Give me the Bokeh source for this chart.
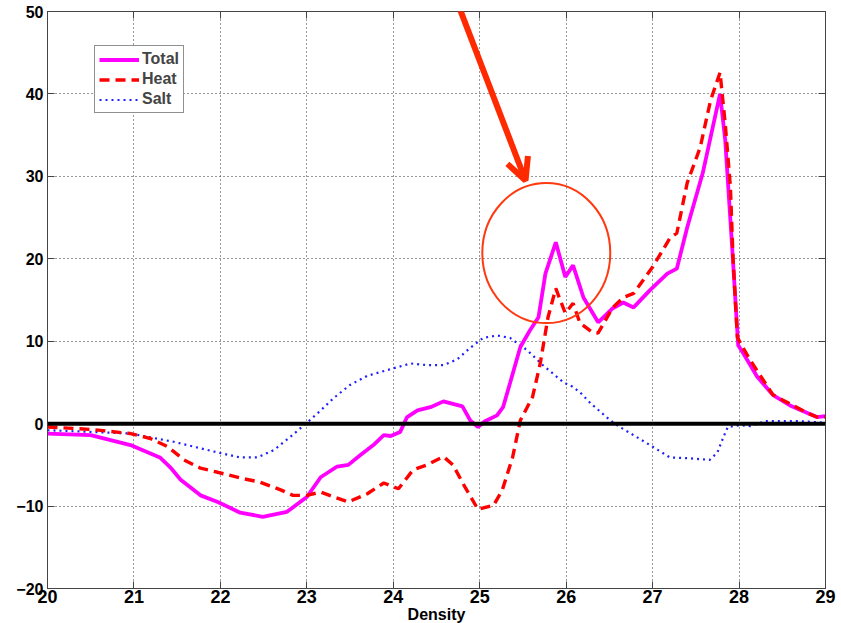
from bokeh.plotting import figure
from bokeh.models import (Span, LinearAxis, FixedTicker, Legend, LegendItem,
                          Arrow, OpenHead, ColumnDataSource)
from bokeh.embed import file_html
from bokeh.resources import INLINE

# ---------------- data ----------------
total_x = [20.0, 20.5, 20.96, 21.3, 21.42, 21.54, 21.77, 21.97, 22.23, 22.49, 22.77, 23.0,
           23.16, 23.35, 23.48, 23.62, 23.77, 23.89, 23.97, 24.08, 24.16, 24.28, 24.43, 24.58,
           24.8, 24.89, 24.98, 25.06, 25.2, 25.27, 25.35, 25.47, 25.58, 25.68, 25.76, 25.88,
           25.99, 26.08, 26.2, 26.37, 26.54, 26.66, 26.78, 26.97, 27.17, 27.28, 27.4, 27.58,
           27.78, 27.84, 27.92, 27.99, 28.05, 28.21, 28.39, 28.59, 28.79, 28.9, 29.0]
total_y = [-1.2, -1.4, -2.6, -4.1, -5.3, -6.8, -8.7, -9.5, -10.8, -11.3, -10.7, -8.9,
           -6.5, -5.2, -5.0, -3.8, -2.6, -1.4, -1.5, -1.0, 0.8, 1.6, 2.0, 2.7,
           2.1, 0.4, -0.4, 0.3, 1.0, 2.0, 4.9, 9.3, 11.3, 12.9, 18.2, 22.0,
           17.8, 19.2, 15.3, 12.3, 14.0, 14.7, 14.1, 16.2, 18.2, 18.8, 23.8, 30.4,
           40.0, 34.4, 21.4, 9.5, 8.5, 5.7, 3.5, 2.2, 1.3, 0.8, 0.9]

heat_x = [20.0, 20.5, 20.96, 21.19, 21.39, 21.58, 21.77, 21.97, 22.23, 22.46, 22.69, 22.84,
          23.0, 23.16, 23.31, 23.48, 23.7, 23.89, 24.06, 24.23, 24.39, 24.58, 24.69, 24.83,
          24.98, 25.16, 25.26, 25.38, 25.47, 25.61, 25.7, 25.79, 25.88, 25.99, 26.08, 26.16,
          26.3, 26.37, 26.54, 26.66, 26.78, 26.89, 27.0, 27.2, 27.28, 27.4, 27.55, 27.67,
          27.78, 27.84, 27.9, 27.93, 27.98, 28.04, 28.13, 28.39, 28.59, 28.79, 28.9, 29.0]
heat_y = [-0.4, -0.7, -1.2, -1.8, -2.8, -4.4, -5.4, -5.9, -6.6, -7.1, -8.0, -8.7,
          -8.7, -8.3, -8.9, -9.5, -8.5, -7.2, -7.9, -5.6, -5.0, -4.0, -5.0, -7.7,
          -10.4, -9.9, -8.1, -4.1, 0.4, 3.2, 7.3, 12.9, 16.4, 13.4, 14.6, 12.2,
          11.1, 11.0, 14.1, 15.3, 15.8, 17.4, 19.0, 22.5, 23.1, 29.2, 33.5, 39.2,
          42.6, 36.4, 28.7, 20.2, 10.5, 9.3, 7.7, 3.5, 2.4, 1.3, 0.8, 0.8]

salt_x = [20.0, 20.5, 20.96, 21.46, 21.97, 22.23, 22.43, 22.62, 22.81, 23.0, 23.16, 23.31,
          23.5, 23.7, 23.93, 24.2, 24.39, 24.58, 24.74, 24.89, 25.04, 25.2, 25.35, 25.55,
          25.73, 25.97, 26.07, 26.16, 26.28, 26.51, 26.62, 26.97, 27.2, 27.43, 27.66, 27.75,
          27.82, 27.87, 28.01, 28.13, 28.3, 28.7, 29.0]
salt_y = [-0.8, -1.0, -1.2, -2.2, -3.5, -4.1, -4.1, -3.2, -1.6, 0.1, 1.6, 3.1,
          4.7, 5.8, 6.5, 7.3, 7.1, 7.1, 7.8, 9.2, 10.4, 10.7, 10.4, 8.9,
          7.1, 5.0, 4.5, 3.8, 2.5, 0.4, -0.4, -2.6, -4.1, -4.2, -4.4, -3.5,
          -1.6, -0.4, -0.2, -0.3, 0.3, 0.3, 0.1]

x_ticks = [20, 21, 22, 23, 24, 25, 26, 27, 28, 29]
y_ticks = [-20, -10, 0, 10, 20, 30, 40, 50]
series_names = ["Total", "Heat", "Salt"]
x_label = "Density"

# annotation (highlight) placement
circle_center = (25.77, 20.7)
circle_size = (1.48, 17.0)
arrow_start = (24.69, 52.5)
arrow_end = (25.53, 29.5)

FONT = "Liberation Sans"

p = figure(x_range=(20, 29), y_range=(-20, 50),
           frame_width=778, frame_height=577,
           min_border_left=47, min_border_top=11, min_border_right=16, min_border_bottom=33,
           output_backend="svg", toolbar_location=None, background_fill_color="white",
           border_fill_color="white")
p.outline_line_color = "#333333"
p.outline_line_width = 1

for ax in (p.xaxis[0], p.yaxis[0]):
    ax.major_tick_in = 7
    ax.major_tick_out = 0
    ax.minor_tick_in = 0
    ax.minor_tick_out = 0
    ax.axis_line_color = "#444444"
    ax.major_tick_line_color = "#444444"
    ax.major_label_text_font = FONT
    ax.major_label_text_font_style = "bold"
    ax.major_label_text_color = "black"

p.xaxis[0].ticker = FixedTicker(ticks=x_ticks)
p.yaxis[0].ticker = FixedTicker(ticks=y_ticks)
p.xaxis[0].major_label_text_font_size = "18px"
p.yaxis[0].major_label_text_font_size = "16px"
p.xaxis[0].major_label_standoff = 1
p.yaxis[0].major_label_standoff = 4
p.xaxis[0].axis_label = x_label
p.xaxis[0].axis_label_text_font = FONT
p.xaxis[0].axis_label_text_font_style = "bold"
p.xaxis[0].axis_label_text_font_size = "16px"
p.xaxis[0].axis_label_text_color = "black"
p.xaxis[0].axis_label_standoff = 0

# box-style ticks on top and right
for side, tk in (("above", x_ticks), ("right", y_ticks)):
    a = LinearAxis(ticker=FixedTicker(ticks=tk))
    a.major_tick_in = 7
    a.major_tick_out = 0
    a.minor_tick_in = 0
    a.minor_tick_out = 0
    a.axis_line_color = "#444444"
    a.major_tick_line_color = "#444444"
    a.major_label_text_font_size = "1px"
    a.major_label_text_color = None
    a.major_label_standoff = 0
    p.add_layout(a, side)

p.xgrid.ticker = FixedTicker(ticks=x_ticks)
p.ygrid.ticker = FixedTicker(ticks=y_ticks)
for g in (p.xgrid[0], p.ygrid[0]):
    g.grid_line_color = "#333333"
    g.grid_line_dash = "1 3"
    g.grid_line_width = 1

p.add_layout(Span(location=0, dimension="width", line_color="black", line_width=4))

src_t = ColumnDataSource(dict(x=total_x, y=total_y))
src_h = ColumnDataSource(dict(x=heat_x, y=heat_y))
src_s = ColumnDataSource(dict(x=salt_x, y=salt_y))

r_s = p.line("x", "y", source=src_s, line_color="#2020ff", line_width=2.2, line_dash="2 4")
r_t = p.line("x", "y", source=src_t, line_color="#ff00ff", line_width=3.8)
r_h = p.line("x", "y", source=src_h, line_color="#ff0000", line_width=3.4, line_dash="10 6")

p.ellipse(x=[circle_center[0]], y=[circle_center[1]], width=circle_size[0], height=circle_size[1],
          fill_color=None, line_color="#ff3a10", line_width=2)

p.add_layout(Arrow(x_start=arrow_start[0], y_start=arrow_start[1],
                   x_end=arrow_end[0], y_end=arrow_end[1],
                   line_color="#ff2a00", line_width=6,
                   end=OpenHead(size=22, line_color="#ff2a00", line_width=6)))

legend = Legend(items=[LegendItem(label=series_names[0], renderers=[r_t]),
                       LegendItem(label=series_names[1], renderers=[r_h]),
                       LegendItem(label=series_names[2], renderers=[r_s])],
                location=(47, 475))
legend.label_text_font = FONT
legend.label_text_font_style = "bold"
legend.label_text_font_size = "16px"
legend.label_height = 17
legend.glyph_height = 17
legend.glyph_width = 40
legend.spacing = 2
legend.padding = 4
legend.margin = 0
legend.label_standoff = 3
legend.border_line_color = "#222222"
legend.border_line_width = 1
legend.background_fill_alpha = 1.0
p.add_layout(legend, "center")

open("out.html", "w").write(file_html(p, INLINE))
